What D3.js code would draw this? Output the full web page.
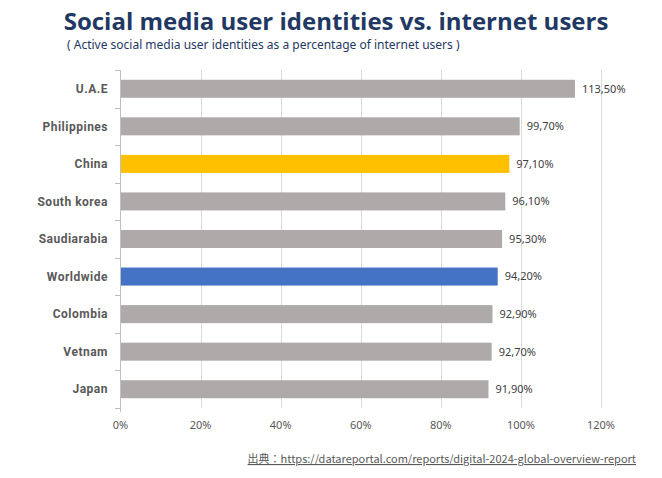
<!DOCTYPE html>
<html><head><meta charset="utf-8">
<script src="https://cdn.jsdelivr.net/npm/d3@7"></script>
<style>body{margin:0;background:#fff;}svg{display:block;font-family:"Noto Sans","Open Sans",sans-serif;}</style>
</head><body>
<svg id="c" width="662" height="478"></svg>
<script>
const categories = ["U.A.E","Philippines","China","South korea","Saudiarabia","Worldwide","Colombia","Vetnam","Japan"];
const values = [113.5,99.7,97.1,96.1,95.3,94.2,92.9,92.7,91.9];
const barColors = ["#AEAAAA","#AEAAAA","#FFC000","#AEAAAA","#AEAAAA","#4472C4","#AEAAAA","#AEAAAA","#AEAAAA"];
const xTicks = [0,20,40,60,80,100,120];

const svg = d3.select("#c");
const x = d3.scaleLinear().domain([0,120]).range([120.5,601]);
const y = d3.scaleBand().domain(categories).range([70,408]).paddingInner(0.52).paddingOuter(0.26);

// gridlines
svg.append("g").selectAll("line").data(xTicks.slice(1)).join("line")
  .attr("x1",d=>Math.round(x(d))+0.5).attr("x2",d=>Math.round(x(d))+0.5).attr("y1",70).attr("y2",408)
  .attr("stroke","#D9D9D9").attr("stroke-width",1);

// bars
svg.append("g").selectAll("rect").data(categories).join("rect")
  .attr("x",x(0)).attr("y",d=>y(d)).attr("height",y.bandwidth())
  .attr("width",(d,i)=>x(values[i])-x(0)).attr("fill",(d,i)=>barColors[i]);

// y axis line + ticks at band boundaries
const yAxisG = svg.append("g");
yAxisG.append("line").attr("x1",120.5).attr("x2",120.5).attr("y1",70).attr("y2",412).attr("stroke","#BFBFBF");
const bounds = d3.range(categories.length+1).map(i=>70+i*(338/categories.length));
yAxisG.selectAll("line.t").data(bounds).join("line").attr("class","t")
  .attr("x1",115).attr("x2",121).attr("y1",d=>Math.round(d)+0.5).attr("y2",d=>Math.round(d)+0.5).attr("stroke","#BFBFBF");

// category labels
svg.append("g").selectAll("text").data(categories).join("text")
  .attr("x",108).attr("y",d=>y(d)+y.bandwidth()/2).attr("dy","0.35em")
  .attr("text-anchor","end").attr("font-size",12).attr("font-weight","bold").attr("fill","#595959")
  .attr("letter-spacing","0.5px")
  .attr("font-family","Roboto, 'Noto Sans', sans-serif")
  .text(d=>d);

// value labels
svg.append("g").selectAll("text").data(categories).join("text")
  .attr("x",(d,i)=>x(values[i])+7).attr("y",d=>y(d)+y.bandwidth()/2).attr("dy","0.35em")
  .attr("font-size",11).attr("fill","#404040")
  .text((d,i)=>values[i].toFixed(2).replace(".",",")+"%");

// x axis tick labels
svg.append("g").selectAll("text").data(xTicks).join("text")
  .attr("x",d=>x(d)).attr("y",429).attr("text-anchor","middle")
  .attr("font-size",11).attr("fill","#595959").text(d=>d+"%");

// title
svg.append("text").attr("x",336).attr("y",30).attr("text-anchor","middle")
  .attr("font-size",24).attr("font-weight","bold").attr("fill","#1F3864")
  .attr("font-family","'Open Sans','Noto Sans',sans-serif")
  .text("Social media user identities vs. internet users");
svg.append("text").attr("x",67).attr("y",49)
  .attr("font-size",12).attr("fill","#1F3864")
  .text("( Active social media user identities as a percentage of internet users )");

// source
svg.append("text").attr("x",636).attr("y",463).attr("text-anchor","end")
  .attr("font-size",11).attr("fill","#595959").attr("text-decoration","underline")
  .attr("font-family","'Noto Sans CJK JP','Noto Sans',sans-serif")
  .text("出典：https://datareportal.com/reports/digital-2024-global-overview-report");
</script>
</body></html>
